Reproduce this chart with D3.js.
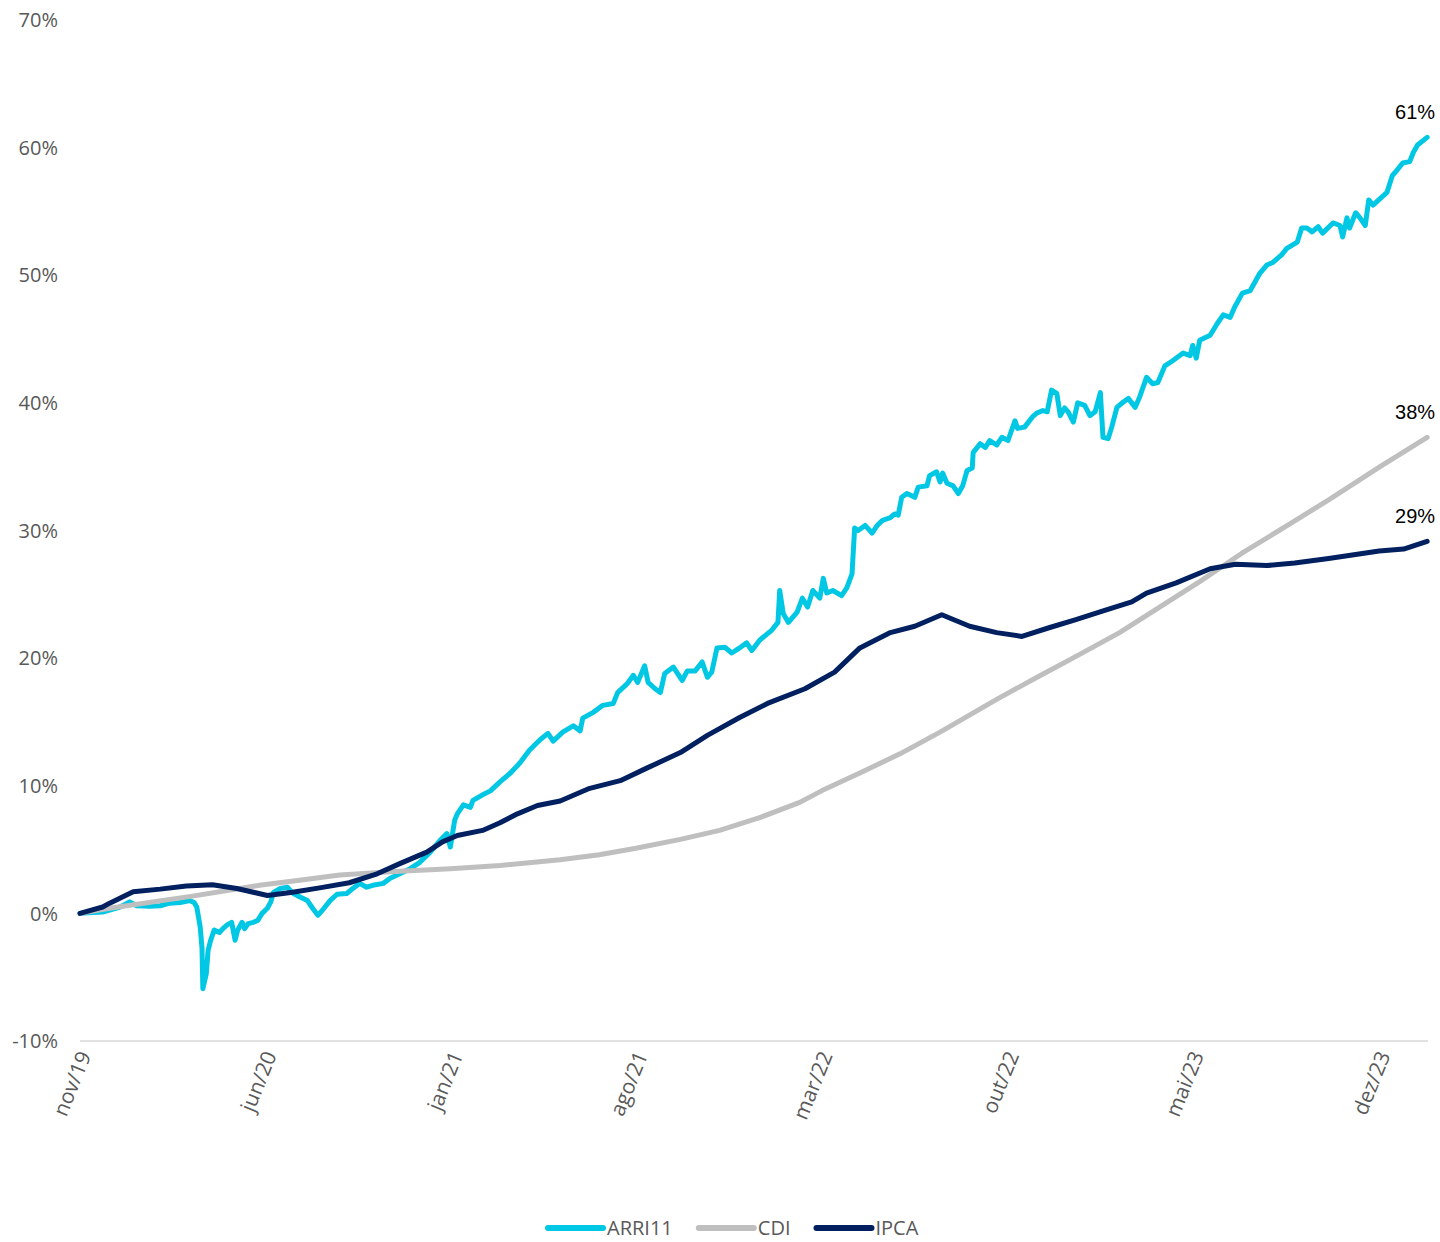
<!DOCTYPE html>
<html>
<head>
<meta charset="utf-8">
<script src="https://cdn.jsdelivr.net/npm/d3@7"></script>
<style>
  body { margin: 0; background: #fff; }
  svg { display: block; }
</style>
</head>
<body>
<svg id="chart" width="1440" height="1242"></svg>
<script>
const tickDates = ["2019-11-01", "2020-06-01", "2021-01-01", "2021-08-01", "2022-03-01", "2022-10-01", "2023-05-01", "2023-12-01"];
const tickLabels = ["nov/19", "jun/20", "jan/21", "ago/21", "mar/22", "out/22", "mai/23", "dez/23"];
const yTicks = [-10, 0, 10, 20, 30, 40, 50, 60, 70];

const seriesNames = ["ARRI11", "CDI", "IPCA"];
const seriesColors = ["#00C8E4", "#BFBFBF", "#002060"];
const endLabels = ["61%", "38%", "29%"];

// retorno acumulado (%)
const arri11 = [
  ["2019-11-01", 0.0], ["2019-11-27", 0.1], ["2019-12-17", 0.5], ["2019-12-28", 0.9], ["2020-01-05", 0.6],
  ["2020-01-20", 0.55], ["2020-02-01", 0.6], ["2020-02-12", 0.8], ["2020-02-24", 0.85], ["2020-03-06", 1.0],
  ["2020-03-11", 0.85], ["2020-03-14", 0.5], ["2020-03-18", -1.1], ["2020-03-20", -2.7], ["2020-03-21", -5.9],
  ["2020-03-25", -4.7], ["2020-03-27", -2.9], ["2020-03-30", -2.1], ["2020-04-03", -1.3], ["2020-04-09", -1.5],
  ["2020-04-13", -1.2], ["2020-04-18", -0.9], ["2020-04-23", -0.7], ["2020-04-27", -2.1], ["2020-04-30", -1.3],
  ["2020-05-05", -0.7], ["2020-05-08", -1.2], ["2020-05-12", -0.8], ["2020-05-18", -0.7], ["2020-05-23", -0.55],
  ["2020-05-28", 0.0], ["2020-06-03", 0.4], ["2020-06-07", 0.9], ["2020-06-10", 1.65], ["2020-06-18", 1.95],
  ["2020-06-26", 2.05], ["2020-07-02", 1.6], ["2020-07-10", 1.3], ["2020-07-19", 1.0], ["2020-07-25", 0.4],
  ["2020-07-31", -0.15], ["2020-08-07", 0.4], ["2020-08-14", 1.0], ["2020-08-22", 1.5], ["2020-09-02", 1.55],
  ["2020-09-09", 1.95], ["2020-09-17", 2.35], ["2020-09-25", 2.05], ["2020-10-02", 2.2], ["2020-10-14", 2.35],
  ["2020-10-22", 2.75], ["2020-11-02", 3.1], ["2020-11-14", 3.5], ["2020-11-25", 4.0], ["2020-12-07", 4.8],
  ["2020-12-18", 5.7], ["2020-12-26", 6.25], ["2020-12-30", 5.2], ["2021-01-04", 7.3], ["2021-01-07", 7.8],
  ["2021-01-14", 8.5], ["2021-01-22", 8.3], ["2021-01-25", 8.85], ["2021-02-04", 9.25], ["2021-02-14", 9.6],
  ["2021-02-25", 10.3], ["2021-03-09", 11.0], ["2021-03-20", 11.8], ["2021-03-31", 12.8], ["2021-04-12", 13.6],
  ["2021-04-21", 14.1], ["2021-04-27", 13.5], ["2021-05-08", 14.2], ["2021-05-20", 14.7], ["2021-05-28", 14.3],
  ["2021-05-31", 15.3], ["2021-06-12", 15.75], ["2021-06-23", 16.3], ["2021-07-05", 16.45], ["2021-07-10", 17.3],
  ["2021-07-21", 18.0], ["2021-07-28", 18.65], ["2021-08-02", 18.1], ["2021-08-10", 19.4], ["2021-08-14", 18.1],
  ["2021-08-22", 17.6], ["2021-08-28", 17.3], ["2021-09-02", 18.8], ["2021-09-12", 19.3], ["2021-09-22", 18.25],
  ["2021-09-28", 19.0], ["2021-10-07", 19.0], ["2021-10-15", 19.7], ["2021-10-21", 18.5], ["2021-10-26", 18.9],
  ["2021-11-01", 20.8], ["2021-11-10", 20.85], ["2021-11-18", 20.4], ["2021-11-27", 20.8], ["2021-12-05", 21.2],
  ["2021-12-11", 20.6], ["2021-12-20", 21.4], ["2022-01-03", 22.2], ["2022-01-10", 22.8], ["2022-01-12", 25.3],
  ["2022-01-16", 23.5], ["2022-01-22", 22.8], ["2022-02-01", 23.6], ["2022-02-07", 24.7], ["2022-02-13", 24.0],
  ["2022-02-19", 25.3], ["2022-02-27", 24.7], ["2022-03-03", 26.25], ["2022-03-07", 25.1], ["2022-03-14", 25.3],
  ["2022-03-24", 24.9], ["2022-03-30", 25.5], ["2022-04-05", 26.6], ["2022-04-08", 30.2], ["2022-04-12", 30.0],
  ["2022-04-20", 30.4], ["2022-04-28", 29.8], ["2022-05-04", 30.4], ["2022-05-10", 30.8], ["2022-05-19", 31.0],
  ["2022-05-24", 31.3], ["2022-05-28", 31.2], ["2022-06-01", 32.6], ["2022-06-07", 32.9], ["2022-06-16", 32.6],
  ["2022-06-20", 33.4], ["2022-06-30", 33.5], ["2022-07-03", 34.3], ["2022-07-11", 34.6], ["2022-07-15", 33.8],
  ["2022-07-18", 34.5], ["2022-07-23", 33.7], ["2022-07-30", 33.5], ["2022-08-05", 32.9], ["2022-08-10", 33.5],
  ["2022-08-15", 34.7], ["2022-08-21", 34.9], ["2022-08-22", 36.1], ["2022-08-30", 36.8], ["2022-09-05", 36.5],
  ["2022-09-10", 37.05], ["2022-09-18", 36.7], ["2022-09-24", 37.3], ["2022-10-01", 37.05], ["2022-10-09", 38.6],
  ["2022-10-12", 38.0], ["2022-10-20", 38.1], ["2022-10-29", 38.9], ["2022-11-03", 39.2], ["2022-11-10", 39.4],
  ["2022-11-15", 39.3], ["2022-11-20", 41.0], ["2022-11-26", 40.75], ["2022-11-30", 39.0], ["2022-12-05", 39.6],
  ["2022-12-09", 39.3], ["2022-12-15", 38.5], ["2022-12-20", 40.0], ["2022-12-28", 39.8], ["2023-01-03", 39.0],
  ["2023-01-09", 39.3], ["2023-01-15", 40.8], ["2023-01-18", 37.3], ["2023-01-24", 37.2], ["2023-01-28", 38.1],
  ["2023-02-03", 39.65], ["2023-02-10", 40.05], ["2023-02-16", 40.35], ["2023-02-24", 39.65], ["2023-03-01", 40.45],
  ["2023-03-09", 42.0], ["2023-03-16", 41.5], ["2023-03-22", 41.6], ["2023-03-30", 42.9], ["2023-04-08", 43.3],
  ["2023-04-20", 43.9], ["2023-04-28", 43.7], ["2023-05-01", 44.5], ["2023-05-05", 43.5], ["2023-05-09", 44.9],
  ["2023-05-21", 45.3], ["2023-05-29", 46.2], ["2023-06-05", 46.9], ["2023-06-13", 46.7], ["2023-06-18", 47.5],
  ["2023-06-27", 48.6], ["2023-07-06", 48.8], ["2023-07-17", 50.15], ["2023-07-25", 50.8], ["2023-08-01", 51.0],
  ["2023-08-11", 51.6], ["2023-08-17", 52.1], ["2023-08-29", 52.6], ["2023-09-03", 53.7], ["2023-09-09", 53.7],
  ["2023-09-15", 53.4], ["2023-09-22", 53.8], ["2023-09-27", 53.3], ["2023-10-09", 54.1], ["2023-10-17", 53.9],
  ["2023-10-20", 53.0], ["2023-10-25", 54.5], ["2023-10-28", 53.7], ["2023-11-04", 54.9], ["2023-11-09", 54.5],
  ["2023-11-15", 53.9], ["2023-11-19", 55.9], ["2023-11-24", 55.5], ["2023-12-02", 56.0], ["2023-12-10", 56.5],
  ["2023-12-16", 57.8], ["2023-12-21", 58.2], ["2023-12-28", 58.8], ["2024-01-05", 58.9], ["2024-01-09", 59.6],
  ["2024-01-14", 60.2], ["2024-01-25", 60.8]
];

const cdi = [
  ["2019-11-01", 0.0], ["2019-12-05", 0.4], ["2020-03-09", 1.35], ["2020-05-25", 2.2], ["2020-07-10", 2.6],
  ["2020-08-25", 3.0], ["2020-11-02", 3.3], ["2020-12-30", 3.5], ["2021-02-25", 3.75], ["2021-05-05", 4.2],
  ["2021-06-19", 4.6], ["2021-07-31", 5.1], ["2021-09-20", 5.8], ["2021-11-04", 6.5], ["2021-12-20", 7.5],
  ["2022-02-04", 8.7], ["2022-03-01", 9.6], ["2022-04-14", 11.0], ["2022-05-30", 12.5], ["2022-07-15", 14.2],
  ["2022-09-20", 16.85], ["2022-11-06", 18.6], ["2022-12-17", 20.1], ["2023-02-06", 22.0], ["2023-03-24", 24.0],
  ["2023-05-09", 26.0], ["2023-06-26", 28.2], ["2023-08-20", 30.5], ["2023-10-04", 32.4], ["2023-12-02", 35.0],
  ["2024-01-25", 37.3]
];

const ipca = [
  ["2019-11-01", 0.0], ["2019-11-27", 0.5], ["2019-12-05", 0.8], ["2020-01-01", 1.7], ["2020-02-01", 1.9],
  ["2020-03-02", 2.15], ["2020-04-01", 2.25], ["2020-04-29", 1.95], ["2020-06-03", 1.4], ["2020-07-02", 1.65],
  ["2020-08-02", 2.0], ["2020-09-05", 2.4], ["2020-10-07", 3.1], ["2020-11-02", 3.9], ["2020-12-03", 4.8],
  ["2020-12-21", 5.6], ["2021-01-07", 6.1], ["2021-02-05", 6.5], ["2021-02-25", 7.1], ["2021-03-17", 7.8],
  ["2021-04-09", 8.45], ["2021-05-05", 8.8], ["2021-06-08", 9.8], ["2021-07-13", 10.4], ["2021-08-13", 11.4],
  ["2021-09-20", 12.6], ["2021-10-21", 13.95], ["2021-11-27", 15.35], ["2021-12-29", 16.45], ["2022-02-10", 17.6],
  ["2022-03-16", 18.9], ["2022-04-14", 20.8], ["2022-05-19", 22.0], ["2022-06-16", 22.5], ["2022-07-17", 23.4],
  ["2022-08-18", 22.5], ["2022-09-18", 22.0], ["2022-10-17", 21.7], ["2022-11-18", 22.4], ["2022-12-17", 23.0],
  ["2023-01-20", 23.75], ["2023-02-20", 24.4], ["2023-03-09", 25.1], ["2023-04-12", 25.9], ["2023-05-21", 27.0],
  ["2023-06-19", 27.35], ["2023-07-25", 27.25], ["2023-08-26", 27.45], ["2023-10-04", 27.8], ["2023-11-02", 28.1],
  ["2023-12-01", 28.4], ["2023-12-29", 28.55], ["2024-01-25", 29.15]
];

const svg = d3.select("#chart");
const parse = d3.timeParse("%Y-%m-%d");
const font = "'Open Sans', 'Liberation Sans', sans-serif";

const x = d3.scaleTime()
  .domain([parse("2019-11-01"), parse("2024-01-26")])
  .range([80, 1428]);

const y = d3.scaleLinear()
  .domain([-10, 70])
  .range([1041, 20]);

// eixo y (só rótulos)
svg.append("g")
  .selectAll("text")
  .data(yTicks)
  .enter()
  .append("text")
  .attr("x", 58)
  .attr("y", d => y(d))
  .attr("dy", "0.36em")
  .attr("text-anchor", "end")
  .attr("font-family", font)
  .attr("font-size", 20)
  .attr("fill", "#595959")
  .text(d => d + "%");

// eixo x
const xAxis = svg.append("g")
  .attr("transform", `translate(0,${y(-10)})`)
  .call(d3.axisBottom(x)
    .tickValues(tickDates.map(parse))
    .tickSize(0)
    .tickFormat((d, i) => tickLabels[i]));

xAxis.select(".domain")
  .attr("d", `M${x.range()[0]},0H${x.range()[1]}`)
  .attr("stroke", "#D9D9D9")
  .attr("stroke-width", 1.5);

xAxis.selectAll(".tick text")
  .attr("font-family", font)
  .attr("font-size", 21)
  .attr("fill", "#595959")
  .attr("text-anchor", "end")
  .attr("y", 0)
  .attr("dy", 0)
  .attr("transform", "translate(11,14) rotate(-68)");

const line = d3.line()
  .x(d => x(parse(d[0])))
  .y(d => y(d[1]));

const allSeries = [arri11, cdi, ipca];

allSeries.forEach((data, i) => {
  svg.append("path")
    .datum(data)
    .attr("fill", "none")
    .attr("stroke", seriesColors[i])
    .attr("stroke-width", 5)
    .attr("stroke-linejoin", "round")
    .attr("stroke-linecap", "round")
    .attr("d", line);
});

// rótulos finais
allSeries.forEach((data, i) => {
  const last = data[data.length - 1];
  svg.append("text")
    .attr("x", x(parse(last[0])) - 12)
    .attr("y", y(last[1]) - 18)
    .attr("text-anchor", "middle")
    .attr("font-family", "'Liberation Sans', sans-serif")
    .attr("font-size", 20)
    .attr("fill", "#000")
    .text(endLabels[i]);
});

// legenda
const legend = svg.append("g").attr("transform", "translate(0,1228)");
let lx = 548;
seriesNames.forEach((name, i) => {
  legend.append("line")
    .attr("x1", lx).attr("x2", lx + 55)
    .attr("y1", 0).attr("y2", 0)
    .attr("stroke", seriesColors[i])
    .attr("stroke-width", 6)
    .attr("stroke-linecap", "round");
  const t = legend.append("text")
    .attr("x", lx + 59)
    .attr("y", 0)
    .attr("dy", "0.35em")
    .attr("font-family", font)
    .attr("font-size", 20)
    .attr("fill", "#595959")
    .text(name);
  lx += 59 + t.node().getComputedTextLength() + 26;
});
</script>
</body>
</html>
